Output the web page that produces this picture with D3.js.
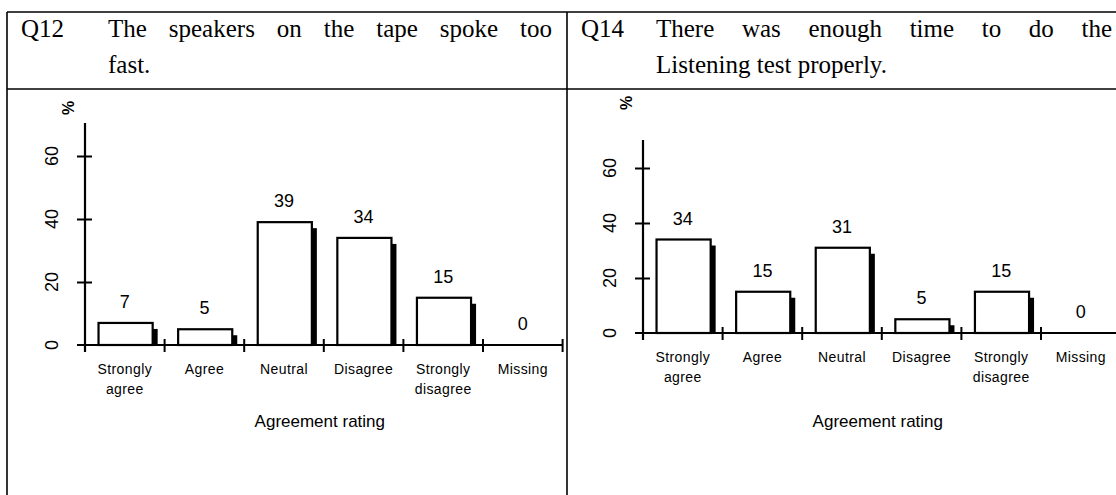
<!DOCTYPE html>
<html>
<head>
<meta charset="utf-8">
<script src="https://cdn.jsdelivr.net/npm/d3@7/dist/d3.min.js"></script>
<style>
  body { margin: 0; background: #fff; }
  svg { display: block; }
</style>
</head>
<body>
<div id="chart"></div>
<script>
// ── Data ──
const categories = [['Strongly', 'agree'], ['Agree'], ['Neutral'], ['Disagree'], ['Strongly', 'disagree'], ['Missing']];
const q12Values = [7, 5, 39, 34, 15, 0];
const q14Values = [34, 15, 31, 5, 15, 0];
const yTicks = [0, 20, 40, 60];
const q12Lines = ['The speakers on the tape spoke too', 'fast.'];
const q14Lines = ['There was enough time to do the', 'Listening test properly.'];
const xTitle = 'Agreement rating';

const W = 1116, H = 495;
const SANS = '"Liberation Sans", Arial, Helvetica, sans-serif';
const SERIF = '"Liberation Serif", "Times New Roman", serif';

const svg = d3.select('#chart').append('svg')
  .attr('width', W)
  .attr('height', H);

// ── Table frame ──
const frame = svg.append('g').attr('stroke', '#000').attr('stroke-width', 1.6);
frame.append('line').attr('x1', 7).attr('x2', W).attr('y1', 12).attr('y2', 12);
frame.append('line').attr('x1', 7).attr('x2', W).attr('y1', 89).attr('y2', 89);
frame.append('line').attr('x1', 7).attr('x2', 7).attr('y1', 12).attr('y2', H);
frame.append('line').attr('x1', 567).attr('x2', 567).attr('y1', 12).attr('y2', H);

// header text, first line justified
function header(label, lines, qx, tx, tRight) {
  const g = svg.append('g')
    .attr('font-family', SERIF)
    .attr('font-size', '25px')
    .attr('fill', '#000');
  g.append('text').attr('x', qx).attr('y', 37).text(label);

  const words = lines[0].split(' ');
  const nodes = words.map(w => g.append('text').attr('y', 37).text(w));
  const widths = nodes.map(n => n.node().getComputedTextLength());
  const gap = (tRight - tx - d3.sum(widths)) / (words.length - 1);
  let x = tx;
  nodes.forEach((n, i) => { n.attr('x', x); x += widths[i] + gap; });

  g.append('text').attr('x', tx).attr('y', 73).text(lines[1]);
}
header('Q12', q12Lines, 21, 108, 552);
header('Q14', q14Lines, 581, 656, 1112);

// ── Bar panels ──
function panel(values, o) {
  const g = svg.append('g')
    .attr('font-family', SANS)
    .attr('fill', '#000');

  const y = d3.scaleLinear().domain([0, 70]).range([o.zeroY, o.zeroY - 70 * o.k]);
  const x = d3.scaleBand().domain(d3.range(categories.length))
    .range([o.x0, o.x0 + categories.length * o.band]);

  const bw = x.bandwidth();
  const barX = i => x(i) + bw * 0.17;
  const barW = bw * 0.68;

  // shadows
  g.append('g').selectAll('rect')
    .data(values)
    .join('rect')
    .filter(d => d > 0)
    .attr('x', (d, i) => barX(i) + 5)
    .attr('y', d => y(d) + 6)
    .attr('width', barW)
    .attr('height', d => o.zeroY - y(d) - 6)
    .attr('fill', '#000');

  // bars
  g.append('g').selectAll('rect')
    .data(values)
    .join('rect')
    .filter(d => d > 0)
    .attr('x', (d, i) => barX(i))
    .attr('y', d => y(d))
    .attr('width', barW)
    .attr('height', d => o.zeroY - y(d))
    .attr('fill', '#fff')
    .attr('stroke', '#000')
    .attr('stroke-width', 2.2);

  // value labels
  g.append('g').selectAll('text')
    .data(values)
    .join('text')
    .attr('x', (d, i) => x(i) + bw / 2)
    .attr('y', d => y(d) - 15)
    .attr('text-anchor', 'middle')
    .attr('font-size', '18px')
    .text(d => d);

  // y axis
  const yAxis = g.append('g')
    .attr('transform', `translate(${o.x0},0)`)
    .call(d3.axisLeft(y).tickValues(yTicks.filter(t => t > 0)).tickSize(8).tickFormat(''));
  yAxis.select('.domain').remove();
  yAxis.selectAll('.tick line')
    .attr('x1', -8).attr('x2', 7)
    .attr('stroke-width', 2);
  yAxis.append('line')
    .attr('x1', 0).attr('x2', 0)
    .attr('y1', o.topY).attr('y2', o.zeroY + 7)
    .attr('stroke', '#000').attr('stroke-width', 2.2);

  // rotated tick labels
  g.append('g').selectAll('text')
    .data(yTicks)
    .join('text')
    .attr('transform', d => `translate(${o.x0 - 33},${y(d)}) rotate(-90)`)
    .attr('text-anchor', 'middle')
    .attr('dominant-baseline', 'central')
    .attr('font-size', '18px')
    .text(d => d);

  g.append('text')
    .attr('transform', `translate(${o.x0 - 17},${o.pctY}) rotate(-90)`)
    .attr('text-anchor', 'middle')
    .attr('dominant-baseline', 'central')
    .attr('font-size', '16px')
    .attr('font-weight', 'bold')
    .text('%');

  // x axis with cross ticks at band edges
  const xEnd = o.x0 + categories.length * o.band;
  g.append('line')
    .attr('x1', o.x0 - 8).attr('x2', xEnd)
    .attr('y1', o.zeroY).attr('y2', o.zeroY)
    .attr('stroke', '#000').attr('stroke-width', 2.2);
  g.append('g').selectAll('line')
    .data(d3.range(1, categories.length + 1))
    .join('line')
    .attr('x1', i => o.x0 + i * o.band).attr('x2', i => o.x0 + i * o.band)
    .attr('y1', o.zeroY - 6).attr('y2', o.zeroY + 7)
    .attr('stroke', '#000').attr('stroke-width', 2);

  // category labels
  const cat = g.append('g').selectAll('text')
    .data(categories)
    .join('text')
    .attr('text-anchor', 'middle')
    .attr('font-size', '14px')
    .attr('letter-spacing', '0.4px');
  cat.each(function (lines, i) {
    d3.select(this).selectAll('tspan')
      .data(lines)
      .join('tspan')
      .attr('x', x(i) + bw / 2)
      .attr('y', (d, j) => o.zeroY + 29 + j * 20)
      .text(d => d);
  });

  g.append('text')
    .attr('x', (o.x0 + xEnd) / 2 - 4)
    .attr('y', 427)
    .attr('text-anchor', 'middle')
    .attr('font-size', '17px')
    .text(xTitle);
}

panel(q12Values, { x0: 85, zeroY: 345, k: 3.15, band: 79.6, topY: 123, pctY: 108 });
panel(q14Values, { x0: 643, zeroY: 333, k: 2.75, band: 79.6, topY: 140, pctY: 103 });
</script>
</body>
</html>
